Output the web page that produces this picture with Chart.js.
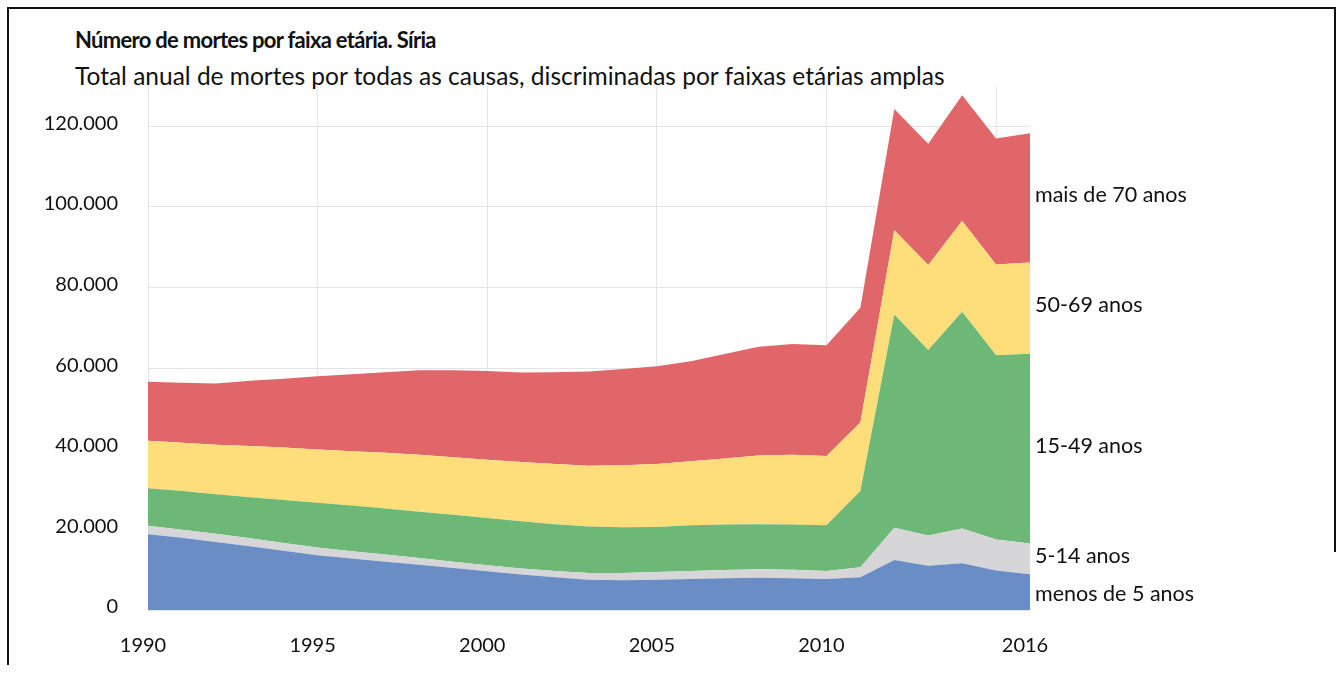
<!DOCTYPE html>
<html>
<head>
<meta charset="utf-8">
<script src="https://cdn.jsdelivr.net/npm/chart.js@4"></script>
<style>
  body { margin: 0; background: #fff; font-family: Lato, sans-serif; }
  #wrap { position: relative; width: 1343px; height: 673px; overflow: hidden; }
  #frame { position: absolute; left: 7px; top: 7px; width: 1327px; height: 656px;
           border-top: 2px solid #111; border-left: 2px solid #111; }
  #rline { position: absolute; left: 1334px; top: 7px; width: 2px; height: 545px; background: #111; }
  #title { position: absolute; left: 75px; top: 26px; font-size: 22px; letter-spacing: -0.7px; font-weight: bold; color: #111; }
  #sub { position: absolute; left: 75px; top: 61px; font-size: 24.5px; color: #111; }
  canvas { position: absolute; left: 0; top: 0; }
</style>
</head>
<body>
<div id="wrap">
  <div id="frame"></div>
  <div id="rline"></div>
  <div id="title">Número de mortes por faixa etária. Síria</div>
  <div id="sub">Total anual de mortes por todas as causas, discriminadas por faixas etárias amplas</div>
  <canvas id="c" width="1343" height="673"></canvas>
</div>
<script>
var years = [];
for (var y = 1990; y <= 2016; y++) years.push(y);
var xTickYears = [1990, 1995, 2000, 2005, 2010, 2016];
var yTicks = [0, 20000, 40000, 60000, 80000, 100000, 120000];

var under5 = [18800, 17900, 16900, 15800, 14700, 13600, 12800, 12000, 11200, 10400, 9600, 8800, 8100, 7500, 7400, 7500, 7700, 7900, 8000, 7900, 7700, 8100, 12400, 11000, 11600, 9800, 8900];
var age5to14 = [2100, 2000, 2000, 2000, 1900, 1900, 1800, 1800, 1700, 1600, 1500, 1500, 1600, 1700, 1800, 1900, 2000, 2000, 2100, 2100, 2000, 2500, 8000, 7500, 8600, 7700, 7600];
var age15to49 = [9300, 9600, 9800, 10200, 10700, 11100, 11300, 11400, 11500, 11600, 11700, 11700, 11600, 11500, 11300, 11200, 11300, 11300, 11200, 11200, 11300, 18900, 52900, 46000, 53800, 45700, 47100];
var age50to69 = [11800, 12000, 12300, 12700, 13000, 13200, 13500, 13800, 14100, 14300, 14500, 14700, 14900, 15100, 15400, 15600, 15900, 16400, 17000, 17300, 17200, 17000, 20900, 21100, 22500, 22500, 22600];
var age70plus = [14600, 14900, 15200, 16200, 17100, 18200, 19100, 20000, 21000, 21600, 22000, 22200, 22800, 23400, 23900, 24300, 24800, 25900, 27000, 27500, 27500, 28500, 30100, 30100, 31200, 31300, 32100];

var seriesNames = ['menos de 5 anos', '5-14 anos', '15-49 anos', '50-69 anos', 'mais de 70 anos'];
var seriesData = [under5, age5to14, age15to49, age50to69, age70plus];
var seriesColors = ['#6a8dc5', '#d6d6d9', '#6db877', '#fede7a', '#e0666a'];

var datasets = seriesData.map(function (d, i) {
  return {
    label: seriesNames[i],
    data: d,
    fill: i === 0 ? 'origin' : '-1',
    backgroundColor: seriesColors[i],
    borderWidth: 0,
    pointRadius: 0,
    tension: 0
  };
});

// nomes das faixas à direita, no meio de cada camada do último ano
var endLabels = {
  id: 'endLabels',
  afterDatasetsDraw: function (chart) {
    var ctx = chart.ctx;
    var ys = chart.scales.y;
    var last = years.length - 1;
    var base = 0;
    ctx.save();
    ctx.font = '21.5px Lato, sans-serif';
    ctx.fillStyle = '#111';
    ctx.textBaseline = 'middle';
    seriesData.forEach(function (d, i) {
      var mid = base + d[last] / 2;
      base += d[last];
      var yy = ys.getPixelForValue(mid);
      yy += (i === 0) ? 2 : -3;
      ctx.fillText(seriesNames[i], chart.chartArea.right + 5, yy);
    });
    ctx.restore();
  }
};

new Chart(document.getElementById('c'), {
  type: 'line',
  data: { labels: years, datasets: datasets },
  plugins: [endLabels],
  options: {
    responsive: false,
    animation: false,
    layout: { padding: { top: 86, right: 313, left: 0, bottom: 0 } },
    plugins: { legend: { display: false }, tooltip: { enabled: false } },
    scales: {
      x: {
        type: 'category',
        offset: false,
        border: { display: false },
        grid: {
          drawTicks: false,
          color: function (c) {
            var yr = years[c.index];
            return (yr - 1990) % 5 === 0 ? '#e6e6e6' : 'rgba(0,0,0,0)';
          },
          lineWidth: 1
        },
        ticks: {
          autoSkip: false,
          maxRotation: 0,
          padding: 24,
          labelOffset: -5,
          color: '#111',
          font: { family: 'Lato', size: 20 },
          callback: function (v, i) {
            return xTickYears.indexOf(years[i]) >= 0 ? String(years[i]) : '';
          }
        },
        afterFit: function (s) { s.height = 63; }
      },
      y: {
        stacked: true,
        min: 0,
        max: 130000,
        border: { display: false },
        grid: { drawTicks: false, color: '#e4e4e4', lineWidth: 1 },
        afterBuildTicks: function (s) {
          s.ticks = yTicks.map(function (v) { return { value: v }; });
        },
        ticks: {
          padding: 30,
          labelOffset: -3,
          color: '#111',
          font: { family: 'Lato', size: 20 },
          callback: function (v) { return v.toLocaleString('pt-BR'); }
        },
        afterFit: function (s) { s.width = 148; }
      }
    }
  }
});
</script>
</body>
</html>
